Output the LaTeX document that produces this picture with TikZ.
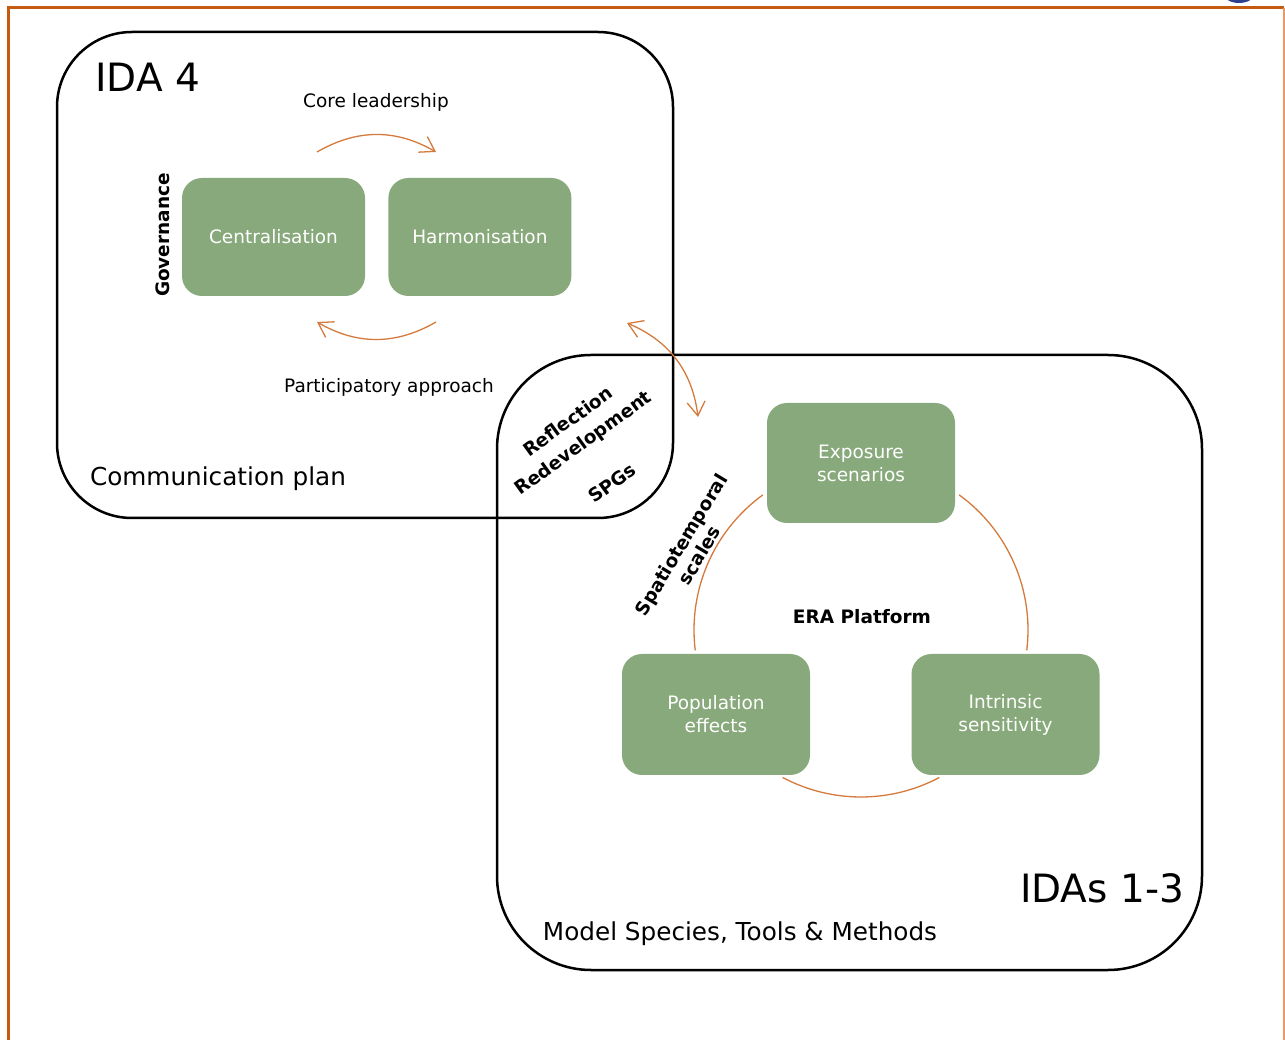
\documentclass[tikz,border=0pt]{standalone}
\usepackage{fontspec}
\setmainfont{DejaVu Sans}
\usetikzlibrary{arrows.meta,positioning}

\begin{document}
\begin{tikzpicture}[x=1pt,y=1pt,
    >={Straight Barb[length=14pt,width=18pt]},
    greenbox/.style={fill=boxgreen,rounded corners=20pt,minimum width=183pt,minimum height=118pt,
        text=white,align=center,font=\fontsize{18.5}{23}\selectfont},
    plainlabel/.style={font=\fontsize{18.5}{22}\selectfont,inner sep=0pt},
    boldlabel/.style={font=\bfseries\fontsize{18.5}{21}\selectfont,inner sep=0pt},
    midlabel/.style={font=\fontsize{24.7}{28}\selectfont,inner sep=0pt},
    biglabel/.style={font=\fontsize{39}{44}\selectfont,inner sep=0pt},
    idabox/.style={draw=black,line width=2.5pt},
    flow/.style={draw=arroworange,line width=1.3pt},
    ring/.style={draw=arroworange,line width=1.3pt}]
    \definecolor{boxgreen}{HTML}{88A97B}
    \definecolor{arroworange}{HTML}{D47A3C}
    \definecolor{framedark}{HTML}{C55A11}
    \definecolor{framelight}{HTML}{E59B62}
    \definecolor{logoblue}{HTML}{2E3F8F}

    \useasboundingbox (0,0) rectangle (1285,1039);

% page frame
    \draw[framedark,line width=3pt] (8,-5) -- (8,1031) -- (1284,1031);
    \draw[framelight,line width=2pt] (1284,1031) -- (1284,-5);
    \fill[logoblue] (1239,1046) ellipse [x radius=16, y radius=10];

% the two IDA boxes
    \draw[idabox,rounded corners=75pt] (57,521) rectangle (673,1007);
    \draw[idabox,rounded corners=94pt] (497,69) rectangle (1202,684);

% IDA 4
    \node[biglabel,anchor=base] (ida4) at (147.5,947) {IDA 4};
    \node[greenbox] (central) at (273.5,802) {Centralisation};
    \node[greenbox,right=23pt of central] (harmon) {Harmonisation};
    \node[boldlabel,rotate=90] (govern) at (163,804) {Governance};
    \node[plainlabel,anchor=base] (core) at (376,931) {Core leadership};
    \node[plainlabel,anchor=base] (partic) at (389,646) {Participatory approach};
    \node[midlabel,anchor=base] (commplan) at (218,553) {Communication plan};
    \coordinate (coreA) at (317,887);
    \coordinate (coreB) at (436,887);
    \coordinate (partA) at (436,717);
    \coordinate (partB) at (317,717);
    \draw[flow,->] (coreA) to[bend left=30] (coreB);
    \draw[flow,->] (partA) to[bend left=30] (partB);

% overlap
    \node[boldlabel,rotate=36,align=center,font=\bfseries\fontsize{18.5}{26}\selectfont]
        (reflect) at (590,587) {Reflection\\Redevelopment\\[24pt]SPGs};
    \coordinate (linkA) at (627,716);
    \coordinate (linkB) at (698,622);
    \draw[flow,<->] (linkA) to[bend left=30] (linkB);

% IDAs 1-3
    \node[greenbox,minimum width=188pt,minimum height=120pt] (expo) at (861,576) {Exposure\\scenarios};
    \node[greenbox,minimum width=188pt,minimum height=121pt] (popul) at (716,324.5) {Population\\effects};
    \node[greenbox,minimum width=188pt,minimum height=121pt] (intrin) at (1005.5,324.5) {Intrinsic\\sensitivity};
    \node[boldlabel,anchor=base] (era) at (862,415) {ERA Platform};
    \node[boldlabel,rotate=59,align=center] (spatio) at (690,489) {Spatiotemporal\\scales};
    \coordinate (hub) at (861,409);
    \draw[ring] (hub) ++(54:167) arc[start angle=54,end angle=-7,radius=167];
    \draw[ring] (hub) ++(-62:167) arc[start angle=-62,end angle=-118,radius=167];
    \draw[ring] (hub) ++(187:167) arc[start angle=187,end angle=126,radius=167];
    \node[midlabel,anchor=base] (model) at (740,99) {Model Species, Tools \& Methods};
    \node[biglabel,anchor=base] (ida13) at (1102,136) {IDAs 1-3};
\end{tikzpicture}
\end{document}
